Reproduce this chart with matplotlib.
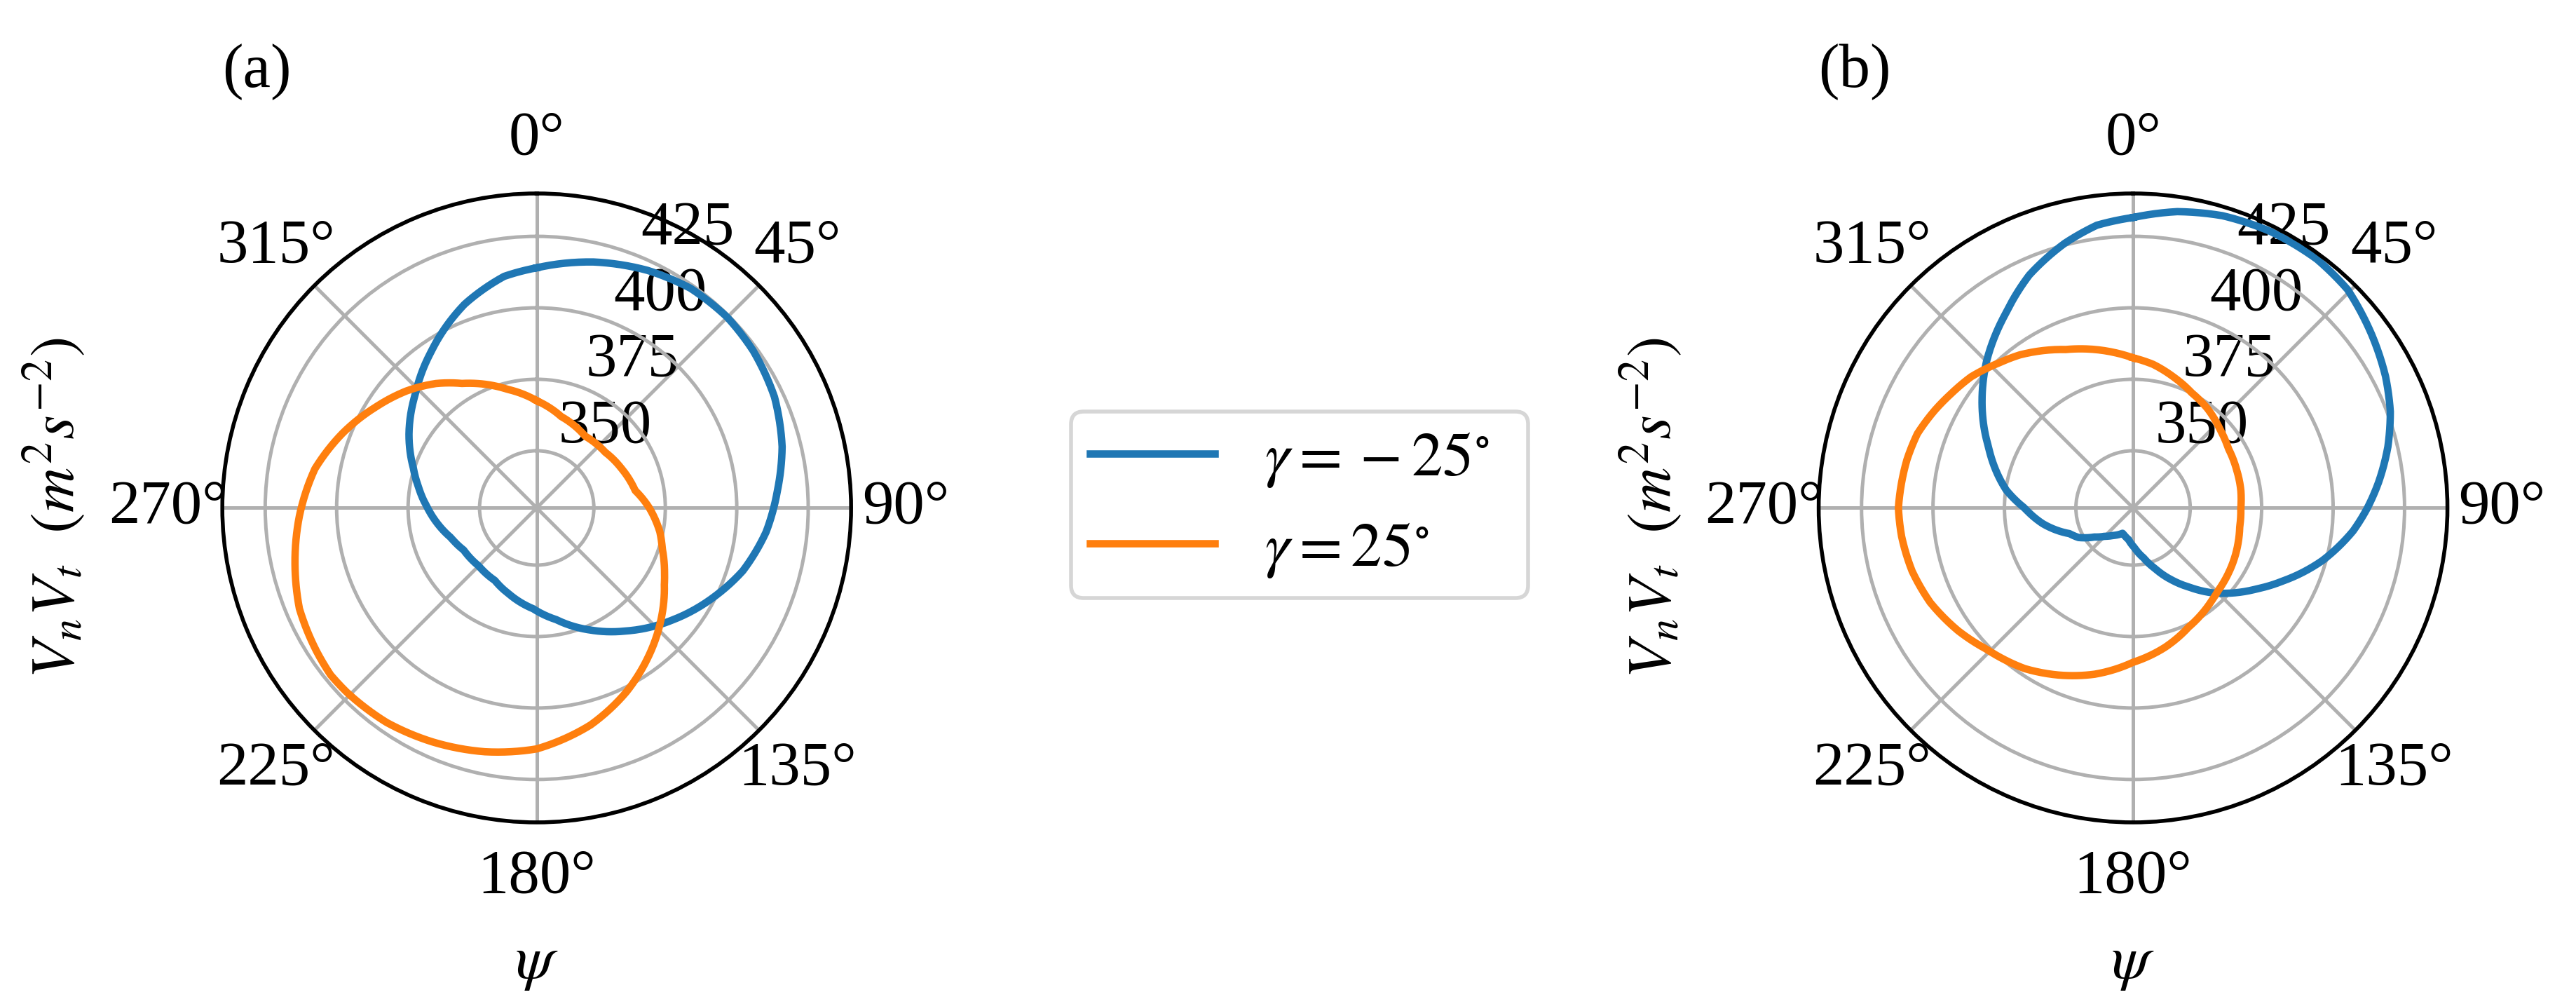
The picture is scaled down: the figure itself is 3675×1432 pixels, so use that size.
import numpy as np
import matplotlib
matplotlib.use("Agg")
import matplotlib.pyplot as plt

plt.rcParams['font.family'] = ['Liberation Serif', 'DejaVu Serif']
plt.rcParams['mathtext.fontset'] = 'stix'
plt.rcParams['font.size'] = 16
plt.rcParams['grid.linewidth'] = 0.9
plt.rcParams['axes.linewidth'] = 1.0

# ---------------- data (psi in degrees, V_n V_t in m^2 s^-2) ----------------
# panel (a), gamma = -25
psi_a_neg = [0, 13, 25, 35, 45, 54, 65, 76, 86, 96, 107, 116, 129.5, 144, 156,
             170, 182, 198, 210, 225, 240, 251, 260, 270, 280, 288, 300, 313.5,
             326, 340.5, 352]
vv_a_neg = [414.0, 418.3, 421.7, 423.8, 424.3, 423.6, 421.8, 418.5, 414.4, 410.7,
            405.4, 399.8, 391.6, 383.2, 376.8, 369.7, 365.3, 361.6, 359.3, 358.7,
            359.5, 361.8, 364.8, 368.2, 372.0, 375.4, 381.6, 388.4, 396.0, 405.6,
            411.8]
# panel (a), gamma = 25
psi_a_pos = [0, 15, 34, 51, 65, 80, 90, 101, 108, 117, 121, 132, 144, 154, 166,
             180, 192, 204, 215, 226, 231, 237, 247, 257, 268, 280, 291, 302, 312,
             321, 329, 346]
vv_a_pos = [367.5, 363.1, 360.3, 360.9, 362.7, 365.0, 369.4, 373.9, 376.2, 380.2,
            382.1, 388.5, 395.6, 401.6, 408.2, 414.3, 417.2, 419.6, 421.6, 422.6,
            422.8, 421.9, 420.2, 416.8, 413.1, 408.8, 402.8, 396.5, 391.2, 386.0,
            380.8, 372.8]
# panel (b), gamma = -25
psi_b_neg = [0, 8.5, 17, 26.5, 36.5, 44.5, 54, 62.5, 69.5, 76.5, 84, 90, 96, 105.5,
             116, 123, 131.5, 137, 144.5, 151.5, 160, 168, 178, 188, 198, 202.5,
             216, 225, 233, 241.5, 248, 260, 270, 278, 293, 306, 315, 327, 336,
             345.5, 352.7]
vv_b_neg = [431.6, 434.8, 436.9, 438.0, 438.2, 437.1, 433.2, 429.6, 426.1, 421.7,
            416.4, 412.0, 407.4, 398.8, 388.3, 381.9, 375.0, 370.6, 364.1, 358.8,
            352.6, 347.9, 343.9, 341.2, 340.0, 339.6, 341.9, 344.0, 346.9, 351.7,
            354.0, 362.0, 368.0, 374.8, 385.0, 395.3, 402.5, 411.5, 419.2, 425.6,
            429.7]
# panel (b), gamma = 25
psi_b_pos = [0, 8, 17, 27, 37, 48, 58, 70, 81, 90, 100, 108, 124, 134, 139, 155,
             167, 180, 193, 204, 214, 226, 235, 245, 254, 263, 270, 282, 289, 296,
             302, 309, 317, 323.5, 337, 353]
vv_b_pos = [382.5, 380.7, 378.0, 375.2, 373.4, 371.0, 369.3, 368.6, 368.2, 367.7,
            367.9, 368.7, 370.4, 371.5, 372.4, 376.0, 380.0, 384.0, 389.7, 394.0,
            397.8, 401.2, 404.8, 408.3, 410.4, 411.6, 412.1, 410.9, 409.8, 407.4,
            405.2, 402.9, 399.2, 396.6, 390.2, 384.8]

series_labels = [r'$\gamma={}-25^{\circ}$', r'$\gamma=25^{\circ}$']
series_colors = ['#1f77b4', '#ff7f0e']
panel_labels = ['(a)', '(b)']
r_ticks = [350, 375, 400, 425]
r_limits = (330, 440)
x_label = r'$\psi$'
y_label = r'$V_nV_t\ \ (m^2s^{-2})$'

panels = [
    [(psi_a_neg, vv_a_neg), (psi_a_pos, vv_a_pos)],
    [(psi_b_neg, vv_b_neg), (psi_b_pos, vv_b_pos)],
]

fig = plt.figure(figsize=(3675 / 400, 1432 / 400), dpi=400)
rects = [[0.0863, 0.1809, 0.2441, 0.6264], [0.7060, 0.1809, 0.2441, 0.6264]]
axes = []
for rect, series, plab in zip(rects, panels, panel_labels):
    ax = fig.add_axes(rect, projection='polar')
    ax.set_theta_zero_location('N')
    ax.set_theta_direction(-1)
    for (psi, vv), lab, col in zip(series, series_labels, series_colors):
        # close the loop by returning to the first reading one turn later
        th = np.deg2rad(np.append(psi, psi[0] + 360.0))
        rr = np.append(vv, vv[0])
        line, = ax.plot(th, rr, color=col, lw=1.9, label=lab,
                        solid_joinstyle='round')
        # draw each segment along the polar grid (arc) instead of a chord
        line.get_path()._interpolation_steps = 24
    ax.set_ylim(*r_limits)
    ax.set_yticks(r_ticks)
    ax.set_xlabel(x_label)
    ax.xaxis.set_label_coords(0.5, -0.18)
    ax.set_ylabel(y_label)
    ax.yaxis.set_label_coords(-0.215, 0.5)
    ax.text(0.0, 1.193, plab, transform=ax.transAxes, ha='left', va='center')
    axes.append(ax)

handles, labels = axes[0].get_legend_handles_labels()
fig.legend(handles, labels, loc='center left',
           bbox_to_anchor=(0.4158, 0.30, 0.1774, 0.394), mode='expand',
           borderaxespad=0.0, borderpad=0.3)
fig.savefig('out.png', dpi=400)
